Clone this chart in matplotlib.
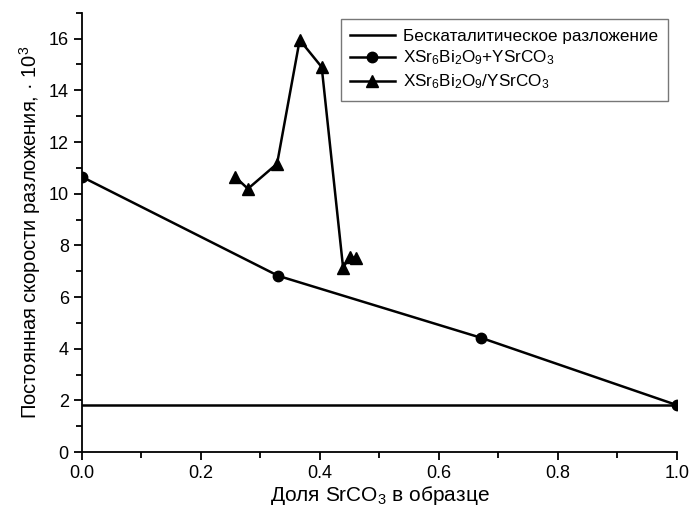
import matplotlib
matplotlib.use('Agg')
import matplotlib.pyplot as plt
from matplotlib.ticker import MultipleLocator

plt.rcParams['font.family'] = ['Liberation Sans', 'DejaVu Sans']
plt.rcParams['mathtext.default'] = 'regular'

# uncatalysed decomposition (constant)
blank_x = [0.0, 1.0]
blank_y = [1.82, 1.82]

# mechanical mixture XSr6Bi2O9 + YSrCO3
mix_x = [0.0, 0.33, 0.67, 1.0]
mix_y = [10.65, 6.82, 4.43, 1.82]

# composite XSr6Bi2O9 / YSrCO3
comp_x = [0.257, 0.279, 0.328, 0.366, 0.403, 0.439, 0.450, 0.460]
comp_y = [10.66, 10.19, 11.16, 15.95, 14.9, 7.13, 7.56, 7.5]

labels = ['Бескаталитическое разложение',
          'XSr$_6$Bi$_2$O$_9$+YSrCO$_3$',
          'XSr$_6$Bi$_2$O$_9$/YSrCO$_3$']

fig = plt.figure(figsize=(6.92, 5.12), dpi=100)
ax = fig.add_axes([0.1185, 0.117, 0.8595, 0.858])

ax.plot(blank_x, blank_y, color='black', lw=1.8, label=labels[0])
ax.plot(mix_x, mix_y, color='black', lw=1.8, marker='o', ms=7.5, label=labels[1])
ax.plot(comp_x, comp_y, color='black', lw=1.8, marker='^', ms=8.5, label=labels[2])

ax.set_xlim(0, 1.0)
ax.set_ylim(0, 17)
ax.xaxis.set_major_locator(MultipleLocator(0.2))
ax.xaxis.set_minor_locator(MultipleLocator(0.1))
ax.yaxis.set_major_locator(MultipleLocator(2))
ax.yaxis.set_minor_locator(MultipleLocator(1))
ax.xaxis.set_major_formatter(plt.FormatStrFormatter('%.1f'))

for s in ['top', 'right']:
    ax.spines[s].set_visible(False)
for s in ['left', 'bottom']:
    ax.spines[s].set_linewidth(1.3)
    ax.spines[s].set_clip_on(False)
ax.tick_params(which='major', direction='out', length=6, width=1.3, labelsize=13)
ax.tick_params(which='minor', direction='out', length=4, width=1.3)

ax.set_xlabel('Доля SrCO$_3$ в образце', fontsize=15, labelpad=1)
ax.set_ylabel('Постоянная скорости разложения, · 10$^{3}$', fontsize=14.5, labelpad=4)

leg = ax.legend(loc='upper right', bbox_to_anchor=(0.999, 1.005), fontsize=12.3,
                frameon=True, fancybox=False, edgecolor='#555555',
                handlelength=2.6, handletextpad=0.5, borderpad=0.55,
                labelspacing=0.3)
leg.get_frame().set_linewidth(1.0)

fig.savefig('out.png', dpi=100)
